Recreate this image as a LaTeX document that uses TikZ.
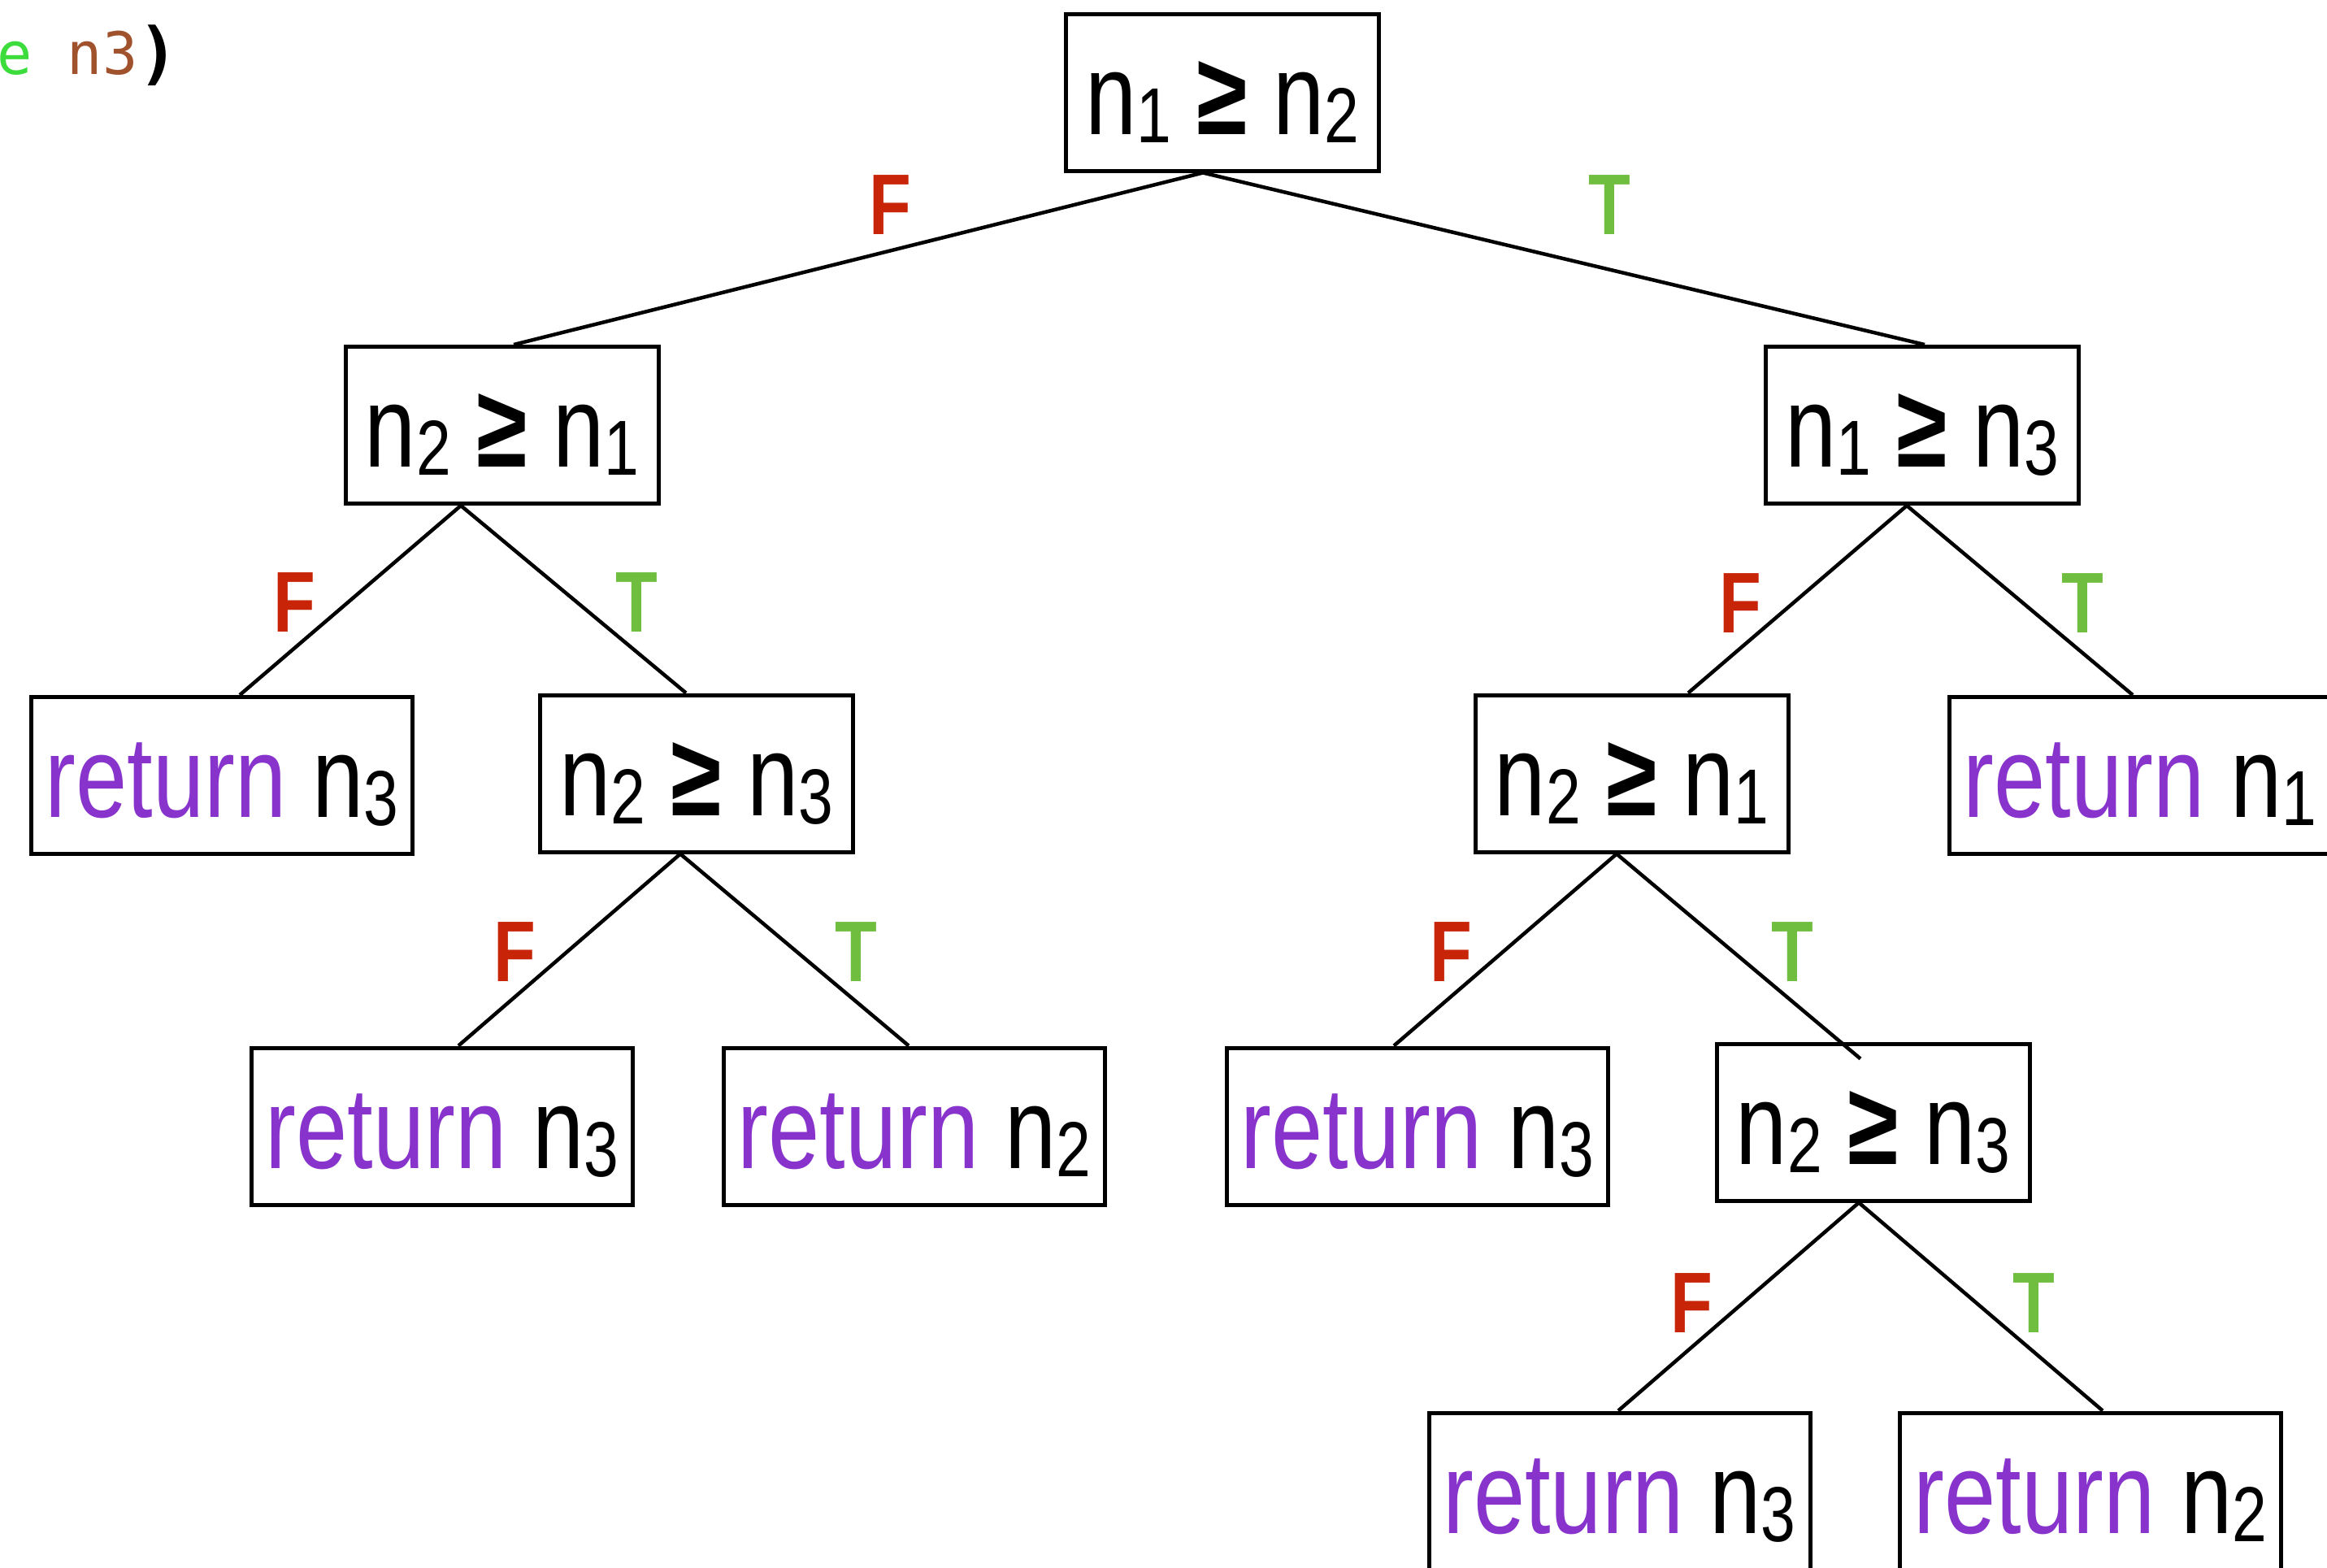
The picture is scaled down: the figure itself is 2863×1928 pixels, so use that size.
\documentclass[tikz,border=0pt]{standalone}
\usepackage{fontspec}
\setmainfont[FakeStretch=0.8]{Liberation Sans}
\newfontfamily\codefont{DejaVu Sans Mono}
\definecolor{retpurple}{RGB}{136,52,204}
\definecolor{fred}{RGB}{200,36,8}
\definecolor{tgreen}{RGB}{112,190,64}
\definecolor{codegreen}{RGB}{60,220,60}
\definecolor{codebrown}{RGB}{160,82,45}
\newcommand\sbs[1]{\raisebox{-10pt}{\fontsize{96pt}{96pt}\selectfont #1}}
\newcommand\gesym{{\bfseries ≥}}
\newcommand\bigtext{\fontsize{142pt}{142pt}\selectfont}
\newcommand\lbltext{\fontsize{106pt}{106pt}\selectfont\bfseries}
\tikzset{
  cond/.style={draw, line width=5pt, minimum width=385pt, minimum height=193pt,
    inner sep=0pt, text height=110pt, text depth=7pt, font=\bigtext, fill=white},
  ret/.style={cond, minimum width=469pt},
  edge/.style={line width=4.5pt},
  flbl/.style={anchor=base, text=fred, font=\lbltext, inner sep=0pt},
  tlbl/.style={anchor=base, text=tgreen, font=\lbltext, inner sep=0pt}
}
\newcommand\ret[1]{\textcolor{retpurple}{return} n\sbs{#1}}
\begin{document}
\begin{tikzpicture}[x=1pt,y=-1pt]
\useasboundingbox (0,0) rectangle (2863,1928);
\clip (0,0) rectangle (2863,1928);
\fill[white] (0,0) rectangle (2863,1928);

% code fragment
\node[anchor=base west, inner sep=0pt, font=\codefont\fontsize{72pt}{72pt}\selectfont] (code) at (-4,91)
  {\textcolor{codegreen}{e} \textcolor{codebrown}{n3}\raisebox{-3pt}{\fontsize{84pt}{84pt}\selectfont\bfseries )}};

\coordinate (top) at (1504,113.5);
\coordinate (L1) at (617.5,523);
\coordinate (R1) at (2365,523);
\coordinate (LL) at (273,954);
\coordinate (LR) at (857,951.5);
\coordinate (RL) at (2007.5,951.5);
\coordinate (RR) at (2633,954);
\coordinate (LRL) at (544,1385.5);
\coordinate (LRR) at (1125,1385.5);
\coordinate (RLL) at (1744,1385.5);
\coordinate (RLR) at (2304.5,1380.5);
\coordinate (RLRL) at (1992.5,1834.5);
\coordinate (RLRR) at (2572,1834.5);

\node[cond] (ntop) at (top) {n\sbs{1} \gesym{} n\sbs{2}};
\node[cond] (nL1) at (L1) {n\sbs{2} \gesym{} n\sbs{1}};
\node[cond] (nR1) at (R1) {n\sbs{1} \gesym{} n\sbs{3}};
\node[ret]  (nLL) at (LL) {\ret{3}};
\node[cond] (nLR) at (LR) {n\sbs{2} \gesym{} n\sbs{3}};
\node[cond] (nRL) at (RL) {n\sbs{2} \gesym{} n\sbs{1}};
\node[ret]  (nRR) at (RR) {\ret{1}};
\node[ret]  (nLRL) at (LRL) {\ret{3}};
\node[ret]  (nLRR) at (LRR) {\ret{2}};
\node[ret]  (nRLL) at (RLL) {\ret{3}};
\node[cond] (nRLR) at (RLR) {n\sbs{2} \gesym{} n\sbs{3}};
\node[ret]  (nRLRL) at (RLRL) {\ret{3}};
\node[ret]  (nRLRR) at (RLRR) {\ret{2}};

\draw[edge] ([xshift=-24pt]ntop.south) -- ([xshift=14.5pt]nL1.north);
\draw[edge] ([xshift=-24pt]ntop.south) -- ([xshift=3pt]nR1.north);
\draw[edge] ([xshift=-50.5pt]nL1.south) -- ([xshift=22pt]nLL.north);
\draw[edge] ([xshift=-50.5pt]nL1.south) -- ([xshift=-13pt]nLR.north);
\draw[edge] ([xshift=-19pt]nR1.south) -- ([xshift=69.5pt]nRL.north);
\draw[edge] ([xshift=-19pt]nR1.south) -- ([xshift=-9pt]nRR.north);
\draw[edge] ([xshift=-20pt]nLR.south) -- ([xshift=20pt]nLRL.north);
\draw[edge] ([xshift=-20pt]nLR.south) -- ([xshift=-7pt]nLRR.north);
\draw[edge] ([xshift=-18.5pt]nRL.south) -- ([xshift=-29pt]nRLL.north);
\draw[edge] ([xshift=-18.5pt]nRL.south) -- ([xshift=-15.5pt,yshift=-21pt]nRLR.north);
\draw[edge] ([xshift=-17.5pt]nRLR.south) -- ([xshift=-1.5pt]nRLRL.north);
\draw[edge] ([xshift=-17.5pt]nRLR.south) -- ([xshift=15pt]nRLRR.north);

% labels
\node[flbl] (f0) at (1095,288) {F};
\node[tlbl] (t0) at (1980,288) {T};
\node[flbl] (f1) at (362,777) {F};
\node[tlbl] (t1) at (783,777) {T};
\node[flbl] (f2) at (2141,778) {F};
\node[tlbl] (t2) at (2562,778) {T};
\node[flbl] (f3) at (633,1207) {F};
\node[tlbl] (t3) at (1053,1207) {T};
\node[flbl] (f4) at (1785,1207) {F};
\node[tlbl] (t4) at (2205,1207) {T};
\node[flbl] (f5) at (2081,1639) {F};
\node[tlbl] (t5) at (2502,1639) {T};
\end{tikzpicture}
\end{document}
